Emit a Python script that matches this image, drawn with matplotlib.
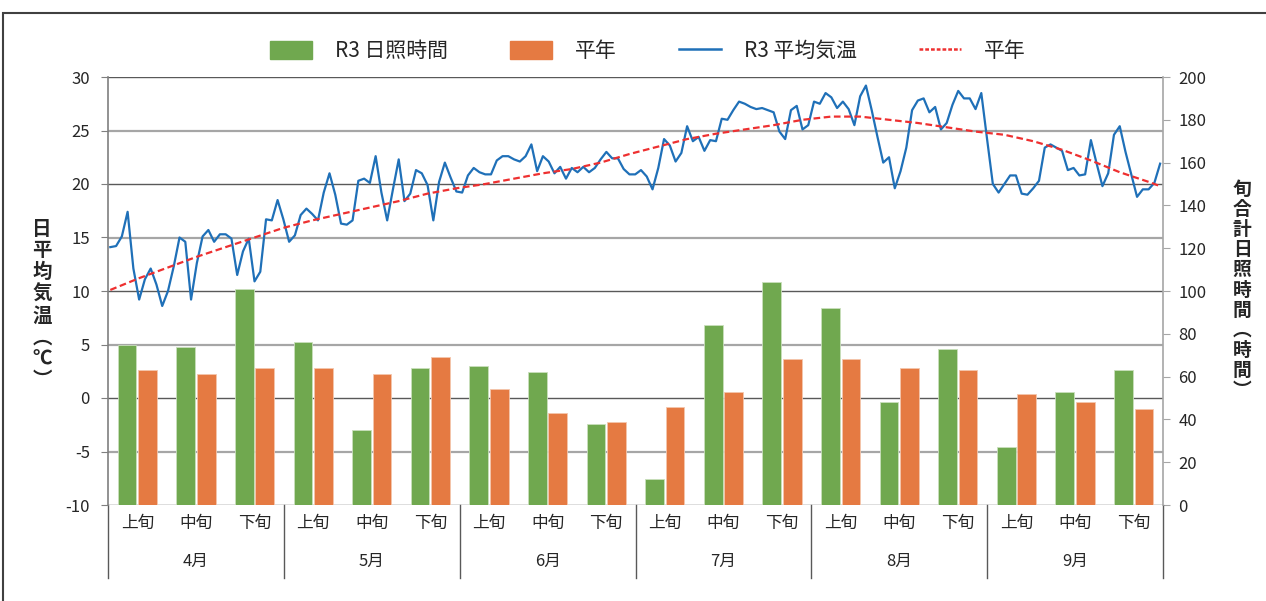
import matplotlib.pyplot as plt
from matplotlib.patches import Patch, Rectangle
from matplotlib.lines import Line2D
import matplotlib.transforms as mtransforms
import numpy as np

plt.rcParams['font.family'] = ['Noto Sans CJK JP', 'DejaVu Sans']
plt.rcParams['axes.unicode_minus'] = False

# --- data -------------------------------------------------------------
months = ['4月', '5月', '6月', '7月', '8月', '9月']
dekads = ['上旬', '中旬', '下旬']

# 旬合計日照時間 (hours)
sun_r3 = [75, 74, 101, 76, 35, 64, 65, 62, 38, 12, 84, 104, 92, 48, 73, 27, 53, 63]
sun_normal = [63, 61, 64, 64, 61, 69, 54, 43, 39, 46, 53, 68, 68, 64, 63, 52, 48, 45]

# 日平均気温 R3, Apr 1 - Sep 30 (183 days)
temp_r3 = [
    14.1, 14.2, 15.1, 17.4, 12.1, 9.2, 11.1, 12.1, 10.6, 8.6,
    10.0, 12.3, 15.0, 14.6, 9.2, 12.6, 15.1, 15.7, 14.6, 15.3,
    15.3, 14.9, 11.5, 13.7, 14.9, 10.9, 11.8, 16.7, 16.6, 18.5,
    16.7, 14.6, 15.2, 17.1, 17.7, 17.2, 16.6, 19.2, 21.0, 19.0,
    16.3, 16.2, 16.6, 20.3, 20.5, 20.1, 22.6, 19.2, 16.6, 19.5,
    22.3, 18.4, 19.1, 21.3, 21.0, 19.9, 16.6, 20.2, 22.0, 20.6,
    19.3, 19.2, 20.8, 21.5, 21.1, 20.9, 20.9, 22.2, 22.6, 22.6,
    22.3, 22.1, 22.6, 23.7, 21.2, 22.6, 22.1, 21.0, 21.6, 20.5,
    21.5, 21.1, 21.6, 21.1, 21.5, 22.3, 23.0, 22.4, 22.4, 21.4,
    20.9, 20.9, 21.3, 20.7, 19.5, 21.5, 24.2, 23.6, 22.1, 22.9,
    25.4, 24.0, 24.4, 23.1, 24.1, 24.0, 26.1, 26.0, 26.9, 27.7,
    27.5, 27.2, 27.0, 27.1, 26.9, 26.7, 24.9, 24.2, 26.9, 27.3,
    25.1, 25.5, 27.7, 27.5, 28.5, 28.1, 27.1, 27.7, 27.0, 25.5,
    28.2, 29.2, 26.9, 24.4, 22.0, 22.5, 19.6, 21.2, 23.4, 26.9,
    27.8, 28.0, 26.7, 27.2, 25.1, 25.7, 27.4, 28.7, 28.0, 28.0,
    27.0, 28.5, 24.2, 20.0, 19.2, 20.0, 20.8, 20.8, 19.1, 19.0,
    19.6, 20.3, 23.4, 23.7, 23.4, 23.1, 21.3, 21.5, 20.8, 20.9,
    24.1, 21.9, 19.8, 21.0, 24.6, 25.4, 23.0, 20.9, 18.8, 19.5,
    19.5, 20.1, 21.9,
]

# 平年 daily mean (sampled days)
normal_day = [0, 5, 10, 15, 20, 25, 30, 35, 40, 45, 50, 55, 60, 65, 70, 75, 80, 85, 90,
              95, 100, 105, 110, 115, 120, 125, 130, 135, 140, 145, 150, 155, 160, 165,
              170, 175, 180, 182]
normal_temp = [10.1, 11.2, 12.2, 13.2, 14.1, 15.0, 15.9, 16.6, 17.2, 17.8, 18.4, 19.1, 19.6,
               20.0, 20.5, 21.0, 21.4, 22.0, 22.8, 23.5, 24.2, 24.7, 25.1, 25.5, 26.0, 26.3,
               26.3, 26.0, 25.7, 25.3, 24.9, 24.6, 24.0, 23.2, 22.2, 21.1, 20.2, 19.8]

temp_ticks = [-10, -5, 0, 5, 10, 15, 20, 25, 30]
hour_ticks = [0, 20, 40, 60, 80, 100, 120, 140, 160, 180, 200]

green = '#70a84f'
orange = '#e57a42'
blue = '#1f70b8'
red = '#ee3030'
txt = '#262626'

# --- figure -----------------------------------------------------------
W, H = 1266, 601
fig = plt.figure(figsize=(W / 100, H / 100), dpi=100)
rect = [108 / W, 1 - 505 / H, (1163 - 108) / W, (505 - 77) / H]

ax_h = fig.add_axes(rect)
ax_t = fig.add_axes(rect)
ax_t.patch.set_visible(False)

n = len(sun_r3)
x = np.arange(n) + 0.5
ax_h.bar(x - 0.175, sun_r3, width=0.32, color=green, edgecolor='#c9dfbc', linewidth=0.6, zorder=3)
ax_h.bar(x + 0.175, sun_normal, width=0.32, color=orange, edgecolor='#f4c6ad', linewidth=0.6, zorder=3)
ax_h.set_xlim(0, n)
ax_h.set_ylim(0, 200)

# grid lines at temperature ticks (drawn under the bars)
for k, t in enumerate(temp_ticks):
    yh = (t - temp_ticks[0]) / (temp_ticks[-1] - temp_ticks[0]) * 200
    if k % 2 == 0:
        ax_h.axhline(yh, color='#595959', lw=1.0, zorder=1)
    else:
        ax_h.axhline(yh, color='#a6a6a6', lw=1.6, zorder=1)

ax_h.yaxis.tick_right()
ax_h.set_yticks(hour_ticks)
ax_h.tick_params(axis='y', direction='out', length=5, color='#a6a6a6', labelsize=12,
                 labelcolor=txt, pad=6)
ax_h.set_xticks([])
for s in ['top', 'left', 'bottom']:
    ax_h.spines[s].set_visible(False)
ax_h.spines['right'].set_color('#a6a6a6')
ax_h.spines['right'].set_linewidth(1.2)

# temperature lines
days = np.arange(len(temp_r3))
ax_t.plot(days, temp_r3, color=blue, lw=1.6, zorder=4)
ax_t.plot(normal_day, normal_temp, color=red, lw=1.6, ls=(0, (3, 1.6)), zorder=5)
ax_t.set_xlim(-0.4, len(temp_r3) - 0.5)
ax_t.set_ylim(temp_ticks[0], temp_ticks[-1])
ax_t.set_yticks(temp_ticks)
ax_t.tick_params(axis='y', direction='out', length=5, color='#7f7f7f', labelsize=12,
                 labelcolor=txt, pad=8)
ax_t.set_xticks([])
for s in ['top', 'right', 'bottom']:
    ax_t.spines[s].set_visible(False)
ax_t.spines['left'].set_color('#7f7f7f')
ax_t.spines['left'].set_linewidth(1.2)

# two-level category axis
trans = mtransforms.blended_transform_factory(ax_h.transData, ax_h.transAxes)
for i in range(n):
    ax_h.text(i + 0.5, -0.042, dekads[i % 3], transform=trans, ha='center', va='center',
              fontsize=12, color=txt)
for m, name in enumerate(months):
    ax_h.text(m * 3 + 1.5, -0.131, name, transform=trans, ha='center', va='center',
              fontsize=12, color=txt)
for b in range(0, n + 1, 3):
    ax_h.plot([b, b], [0, -0.171], transform=trans, color='#595959', lw=1.0, clip_on=False)

# axis titles (vertical stacked Japanese text)
fig.text(42 / W, 1 - 305 / H, '\n'.join('日平均気温︵℃︶'), ha='center', va='center',
         fontsize=14, fontweight='bold', color=txt, linespacing=1.17)
fig.text(1242 / W, 1 - 290 / H, '\n'.join('旬合計日照時間︵時間︶'), ha='center', va='center',
         fontsize=13.5, fontweight='bold', color=txt, linespacing=1.08)

# legend
handles = [Patch(color=green), Patch(color=orange),
           Line2D([], [], color=blue, lw=1.8),
           Line2D([], [], color=red, lw=1.8, ls=(0, (1.5, 0.8)))]
labels = ['R3 日照時間', '平年', 'R3 平均気温', '平年']
fig.legend(handles, labels, loc='center', bbox_to_anchor=(648 / W, 1 - 51 / H), ncol=4,
           frameon=False, fontsize=15, handlelength=2.0, handleheight=1.0,
           handletextpad=1.1, columnspacing=3.0, labelcolor=txt)

# outer frame
fig.add_artist(Rectangle((3 / W, -0.1), 1.2, 1.1 - 13 / H, transform=fig.transFigure,
                         fill=False, ec='#404040', lw=1.5))

fig.savefig('out.png', dpi=100)
